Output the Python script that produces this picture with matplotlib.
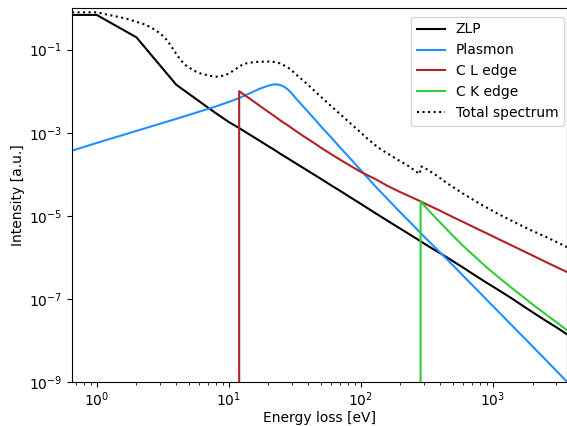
import matplotlib
matplotlib.use("Agg")
import matplotlib.pyplot as plt
from matplotlib.ticker import FixedLocator, NullLocator, LogFormatterMathtext
import numpy as np

# Energy grid (eV) used for ZLP
energy = [0.65, 1, 2, 3, 4, 5, 6, 7, 8, 10, 12, 14, 17, 20, 22, 25, 28, 32, 36, 40,
          45, 50, 60, 70, 85, 100, 130, 160, 200, 250, 284, 300, 350, 420, 500, 600,
          750, 900, 1100, 1400, 1700, 2100, 2600, 3100, 3650]

# log10 intensities
zlp_log = [-0.164, -0.164, -0.704, -1.370, -1.843, -2.065, -2.246, -2.40, -2.53, -2.74,
           -2.887, -3.02, -3.185, -3.325, -3.405, -3.52, -3.615, -3.73, -3.83, -3.92,
           -4.02, -4.11, -4.27, -4.40, -4.57, -4.71, -4.94, -5.12, -5.31, -5.50,
           -5.61, -5.66, -5.79, -5.94, -6.09, -6.25, -6.45, -6.61, -6.78, -6.99,
           -7.17, -7.36, -7.55, -7.70, -7.85]

# Plasmon
pl_energy = [0.65, 1, 2, 3, 4, 5, 6, 7, 8, 10, 12, 14, 17, 20, 22, 23.5, 25, 26.5, 28,
             30, 32, 36, 40, 45, 50, 60, 70, 85, 100, 130, 160, 200, 250, 300, 350, 420,
             500, 600, 750, 900, 1100, 1400, 1700, 2100, 2600, 3100, 3650]
plasmon_log = [-3.43, -3.245, -2.955, -2.785, -2.665, -2.57, -2.49, -2.425, -2.365, -2.26,
               -2.165, -2.07, -1.945, -1.865, -1.835, -1.838, -1.86, -1.90, -1.955,
               -2.05, -2.16, -2.34, -2.50, -2.68, -2.85, -3.12, -3.36, -3.65, -3.90,
               -4.30, -4.60, -4.92, -5.23, -5.49, -5.70, -5.95, -6.19, -6.45, -6.76,
               -7.02, -7.30, -7.64, -7.91, -8.21, -8.51, -8.76, -8.99]

# C L edge (onset 12 eV)
cl_energy = [12, 12, 14, 17, 20, 22, 25, 28, 32, 36, 40, 45, 50, 60, 70, 85, 100, 130,
             160, 200, 250, 284, 300, 350, 420, 500, 600, 750, 900, 1100, 1400, 1700,
             2100, 2600, 3100, 3650]
cl_log = [-9.5, -2.0, -2.15, -2.34, -2.50, -2.59, -2.72, -2.82, -2.95, -3.06, -3.155,
          -3.26, -3.36, -3.52, -3.65, -3.81, -3.94, -4.12, -4.28, -4.43, -4.57, -4.65,
          -4.69, -4.79, -4.91, -5.03, -5.15, -5.30, -5.42, -5.555, -5.715, -5.845,
          -5.985, -6.13, -6.245, -6.35]

# C K edge (onset 284 eV)
ck_energy = [284, 284, 300, 350, 420, 500, 600, 750, 900, 1100, 1400, 1700, 2100, 2600,
             3100, 3650]
ck_log = [-9.5, -4.655, -4.74, -4.97, -5.23, -5.48, -5.73, -6.01, -6.24, -6.47, -6.74,
          -6.95, -7.18, -7.40, -7.58, -7.75]

# Total spectrum
tot_energy = [0.65, 1.0, 1.26, 1.5, 1.7, 2.0, 2.3, 2.6, 3.0, 3.3, 3.6, 4.0, 4.3, 4.7, 5.4,
              6.2, 7.2, 8.1, 9.4, 10.8, 12.0, 13.0, 15.4, 18, 21.2, 24.5, 27, 29, 32, 35,
              40, 46, 53, 62, 72, 83, 100, 111, 136, 160, 187, 230, 273, 280, 285, 290,
              316, 380, 450, 600, 800, 1050, 1430, 1900, 2560, 3650]
tot_log = [-0.101, -0.101, -0.17, -0.22, -0.26, -0.33, -0.39, -0.47, -0.60, -0.72, -0.88,
           -1.10, -1.24, -1.37, -1.50, -1.58, -1.63, -1.65, -1.62, -1.51, -1.41, -1.34,
           -1.30, -1.29, -1.285, -1.33, -1.40, -1.46, -1.58, -1.69, -1.85, -2.03, -2.21,
           -2.405, -2.59, -2.766, -2.995, -3.128, -3.36, -3.50, -3.634, -3.80, -3.97,
           -3.99, -3.83, -3.811, -3.875, -4.04, -4.212, -4.47, -4.711, -4.92, -5.137,
           -5.33, -5.513, -5.75]

y_ticks = [1e-9, 1e-7, 1e-5, 1e-3, 1e-1]

def lin(v):
    return np.power(10.0, np.asarray(v))

DPI = 100
fig = plt.figure(figsize=(5.67, 4.26), dpi=DPI)
ax = fig.add_axes([0.127, 0.103, 0.873, 0.878])

ax.plot(energy, lin(zlp_log), color="black", lw=1.5, label="ZLP")
ax.plot(pl_energy, lin(plasmon_log), color="#1E90FF", lw=1.5, label="Plasmon")
ax.plot(cl_energy, lin(cl_log), color="#B22222", lw=1.5, label="C L edge")
ax.plot(ck_energy, lin(ck_log), color="#32CD32", lw=1.5, label="C K edge")
ax.plot(tot_energy, lin(tot_log), color="black", lw=1.5, ls=":", label="Total spectrum")

ax.set_xscale("log")
ax.set_yscale("log")
ax.set_xlim(0.65, 3650)
ax.set_ylim(1e-9, 1.0)
ax.yaxis.set_major_locator(FixedLocator(y_ticks))
ax.yaxis.set_major_formatter(LogFormatterMathtext())
ax.yaxis.set_minor_locator(NullLocator())
ax.tick_params(axis="x", which="major", pad=2.5)
ax.set_xlabel("Energy loss [eV]", labelpad=1.5)
ax.set_ylabel("Intensity [a.u.]", labelpad=3)
ax.legend(loc="upper right", bbox_to_anchor=(1.008, 0.995))

fig.savefig("out.png", dpi=DPI)
